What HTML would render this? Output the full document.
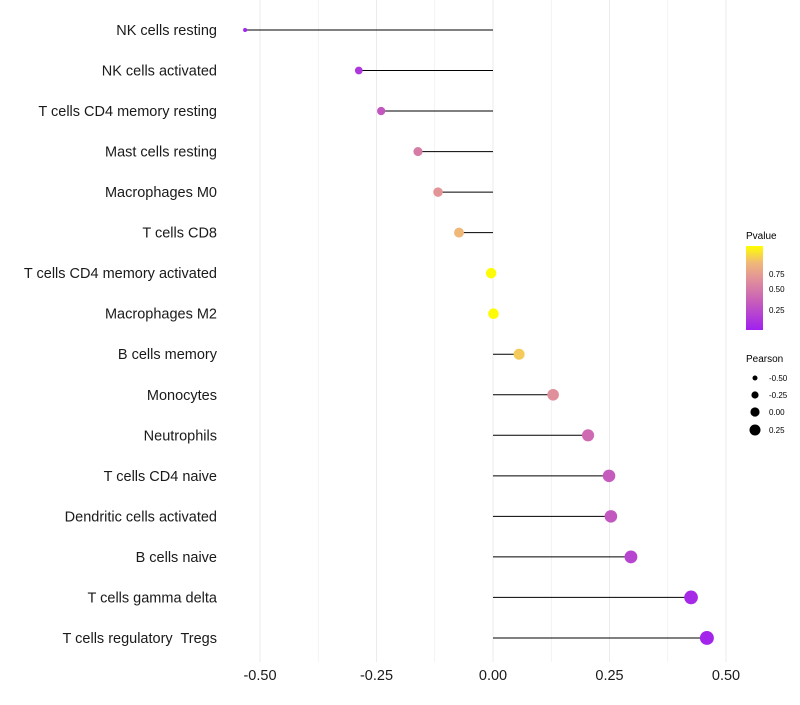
<!DOCTYPE html>
<html><head><meta charset="utf-8"><style>
body{margin:0;background:#fff;font-family:"Liberation Sans",sans-serif}
text{white-space:pre}
</style></head><body>
<svg id="chart" width="800" height="700" xmlns="http://www.w3.org/2000/svg">
<defs><linearGradient id="pg" x1="0" y1="1" x2="0" y2="0">
<stop offset="0" stop-color="#a020f0"/><stop offset="0.35" stop-color="#c860b8"/><stop offset="0.6" stop-color="#e0909a"/><stop offset="0.8" stop-color="#f0b878"/><stop offset="1" stop-color="#ffff00"/></linearGradient></defs>
<g id="grid"></g><g id="marks"></g><g id="ylabels"></g><g id="xlabels"></g>
<g>
<text x="746" y="239" font-size="10">Pvalue</text>
<rect x="746" y="246" width="17" height="84" fill="url(#pg)"/>
<g font-size="8"><text x="769" y="277">0.75</text><text x="769" y="292">0.50</text><text x="769" y="313">0.25</text></g>
</g>
<g>
<text x="746" y="362" font-size="10">Pearson</text>
<circle cx="755" cy="378" r="2.5"/><circle cx="755" cy="395" r="3.6"/><circle cx="755" cy="412" r="4.6"/><circle cx="755" cy="430" r="5.5"/>
<g font-size="8"><text x="769" y="381">-0.50</text><text x="769" y="398">-0.25</text><text x="769" y="415">0.00</text><text x="769" y="433">0.25</text></g>
</g>
</svg>
<script>
const categories=["NK cells resting","NK cells activated","T cells CD4 memory resting","Mast cells resting","Macrophages M0","T cells CD8","T cells CD4 memory activated","Macrophages M2","B cells memory","Monocytes","Neutrophils","T cells CD4 naive","Dendritic cells activated","B cells naive","T cells gamma delta","T cells regulatory  Tregs"];
const pearson=[-0.532,-0.288,-0.240,-0.161,-0.118,-0.073,-0.004,0.001,0.056,0.129,0.204,0.249,0.253,0.296,0.425,0.459];
const pvalue=[0.02,0.12,0.3,0.5,0.62,0.8,0.99,0.99,0.85,0.6,0.4,0.32,0.3,0.2,0.05,0.03];
const xticks=[-0.5,-0.25,0,0.25,0.5];
const xTickLabels=["-0.50","-0.25","0.00","0.25","0.50"];
const NS="http://www.w3.org/2000/svg";
const x=v=>493+v*466;
const y=i=>30+i*40.53;
const r=v=>Math.sqrt(4+Math.max(0,v+0.532)*45);
const stops=[[0,[160,32,240]],[0.35,[200,96,184]],[0.6,[224,144,154]],[0.8,[240,184,120]],[1,[255,255,0]]];
function col(p){for(let k=1;k<stops.length;k++){if(p<=stops[k][0]){const a=stops[k-1],b=stops[k],t=(p-a[0])/(b[0]-a[0]);return "rgb("+a[1].map((c,j)=>Math.round(c+(b[1][j]-c)*t)).join(",")+")";}}return "rgb(255,255,0)";}
function mk(t,at,parent){const e=document.createElementNS(NS,t);for(const k in at)e.setAttribute(k,at[k]);document.getElementById(parent).appendChild(e);return e;}
[-0.5,-0.375,-0.25,-0.125,0,0.125,0.25,0.375,0.5].forEach(v=>{
const l=mk("line",{x1:x(v),x2:x(v),y1:0,y2:662,stroke:"#ebebeb","stroke-width":Number.isInteger(v*4)?1:0.6},"grid");

});
categories.forEach((c,i)=>{
const s=mk("line",{x1:x(0),x2:x(pearson[i]),y1:y(i),y2:y(i),stroke:"#000","stroke-width":1},"marks");


const d=mk("circle",{cx:x(pearson[i]),cy:y(i),r:r(pearson[i]),fill:col(pvalue[i])},"marks");


const t=mk("text",{x:217,y:y(i)+5,"text-anchor":"end","font-size":14.5,fill:"#1a1a1a"},"ylabels");
t.textContent=c;

});
xticks.forEach((v,i)=>{const t=mk("text",{x:x(v),y:680,"text-anchor":"middle","font-size":14.5,fill:"#1a1a1a"},"xlabels");
t.textContent=xTickLabels[i];

});
</script>
</body></html>
